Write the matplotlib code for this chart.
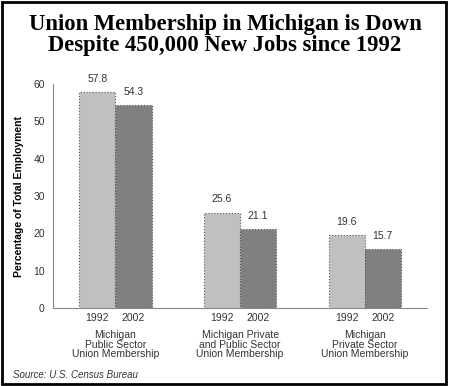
import matplotlib.pyplot as plt
from matplotlib.patches import Rectangle

# data
groups = ["Michigan\nPublic Sector\nUnion Membership",
          "Michigan Private\nand Public Sector\nUnion Membership",
          "Michigan\nPrivate Sector\nUnion Membership"]
years = ["1992", "2002"]
vals_1992 = [57.8, 25.6, 19.6]
vals_2002 = [54.3, 21.1, 15.7]

plt.rcParams['font.family'] = ['Liberation Sans', 'DejaVu Sans']

fig = plt.figure(figsize=(4.5, 3.86), dpi=100)
ax = fig.add_axes([0.118, 0.202, 0.831, 0.580])

w = 0.29
x = range(len(groups))
for i in x:
    for j, (v, c) in enumerate([(vals_1992[i], '#c0c0c0'), (vals_2002[i], '#808080')]):
        xc = i + (j - 0.5) * w
        ax.bar(xc, v, width=w, color=c, edgecolor='#555555', linewidth=0.8,
               linestyle=':')
        ax.text(xc, v + 2.2, f"{v:.1f}", ha='center', va='bottom', fontsize=7.5,
                color='#333333')
        ax.text(xc, -1.4, years[j], ha='center', va='top', fontsize=7.5,
                color='#333333')
    ax.text(i, -5.8, groups[i], ha='center', va='top', fontsize=7.5,
            color='#333333', linespacing=0.98)

ax.set_xlim(-0.5, 2.5)
ax.set_ylim(0, 60)
ax.set_xticks([])
ax.set_yticks(range(0, 61, 10))
ax.tick_params(axis='y', length=0, pad=6, labelsize=7.5, labelcolor='#333333')
for s in ['top', 'right']:
    ax.spines[s].set_visible(False)
ax.spines['left'].set_color('#888888')
ax.spines['bottom'].set_color('#888888')
fig.text(19 / 450, 0.49, "Percentage of Total Employment", fontsize=7.5,
         fontweight='bold', rotation=90, ha='center', va='center')

fig.text(0.5, 0.965, "Union Membership in Michigan is Down\nDespite 450,000 New Jobs since 1992",
         ha='center', va='top', fontsize=16.3, fontweight='bold',
         family=['Liberation Serif'], linespacing=1.0)
fig.text(0.029, 0.022, "Source: U.S. Census Bureau", fontsize=7, style='italic',
         color='#333333')

fig.patches.append(Rectangle((0.005, 0.006), 0.985, 0.988, transform=fig.transFigure,
                             fill=False, edgecolor='black', linewidth=2))

fig.savefig("out.png", dpi=100)
